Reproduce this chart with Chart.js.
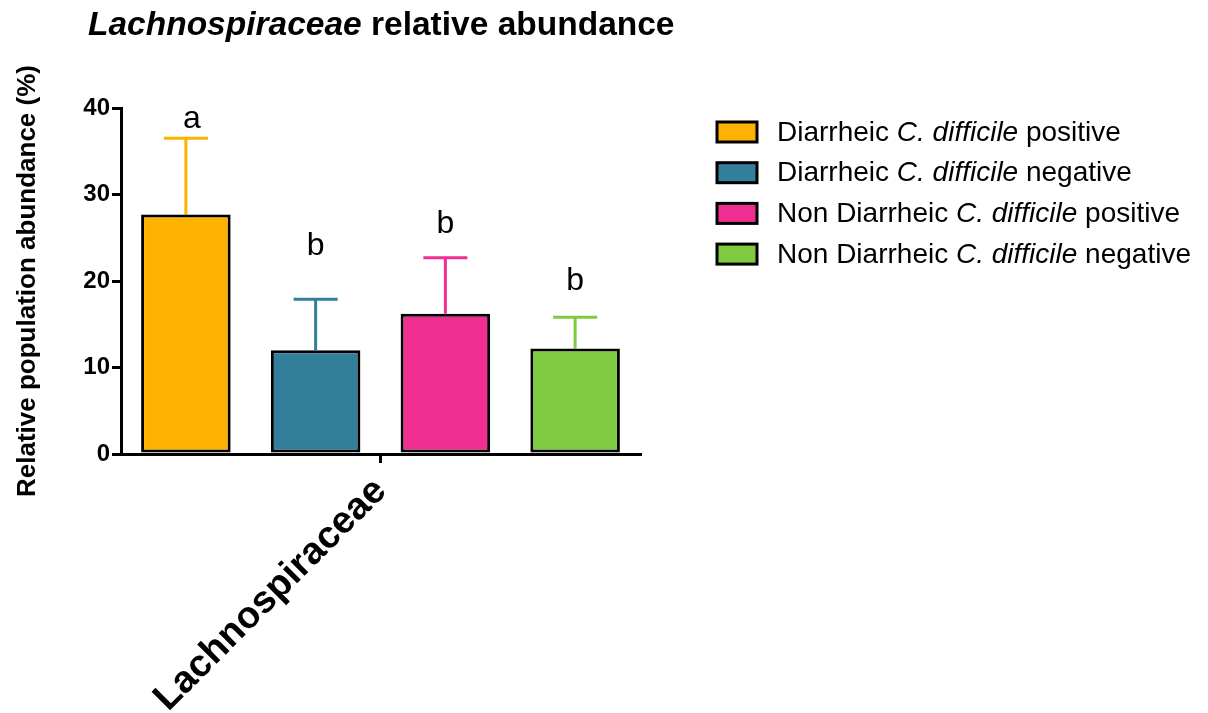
<!DOCTYPE html>
<html>
<head>
<meta charset="utf-8">
<script src="https://cdn.jsdelivr.net/npm/chart.js@4.4.0/dist/chart.umd.min.js"></script>
<style>
  body { margin: 0; background: #fff; }
  #wrap { width: 1208px; height: 713px; }
</style>
</head>
<body>
<div id="wrap"><canvas id="myChart"></canvas></div>
<script>
// 데이터
var categories = ['Lachnospiraceae'];
var groupLabels = [
    'Diarrheic C. difficile positive',
    'Diarrheic C. difficile negative',
    'Non Diarrheic C. difficile positive',
    'Non Diarrheic C. difficile negative'
];
var meanValues = [27.7, 12.0, 16.2, 12.2];
var errorTops = [36.5, 17.9, 22.7, 15.8];
var sigLetters = ['a', 'b', 'b', 'b'];
var letterHeights = [37.7, 23.0, 25.6, 19.0]; // 글자 baseline 위치 (y값)
var barColors = ['#FDB100', '#327F9C', '#F02E92', '#7FCB3F'];
var yTicks = [0, 10, 20, 30, 40];

var FONT = "'Liberation Sans', Arial, Helvetica, sans-serif";

// 이탤릭 섞인 텍스트 그리기
function drawMixed(ctx, parts, x, y, size, weight) {
    parts.forEach(function(p) {
        ctx.font = (p[1] ? 'italic ' : '') + weight + ' ' + size + 'px ' + FONT;
        ctx.fillText(p[0], x, y);
        x += ctx.measureText(p[0]).width;
    });
}

function splitItalic(label) {
    var key = 'C. difficile';
    var i = label.indexOf(key);
    if (i < 0) return [[label, false]];
    return [[label.slice(0, i), false], [key, true], [label.slice(i + key.length), false]];
}

var extrasPlugin = {
    id: 'extras',
    beforeDatasetsDraw: function(chart) {
        // 에러바
        var ctx = chart.ctx;
        var yScale = chart.scales.y;
        ctx.save();
        chart.data.datasets.forEach(function(ds, i) {
            var bar = chart.getDatasetMeta(i).data[0];
            var yTop = yScale.getPixelForValue(ds.errTop);
            ctx.strokeStyle = ds.backgroundColor;
            ctx.lineWidth = 3;
            ctx.beginPath();
            ctx.moveTo(bar.x, bar.y);
            ctx.lineTo(bar.x, yTop);
            ctx.moveTo(bar.x - 22, yTop);
            ctx.lineTo(bar.x + 22, yTop);
            ctx.stroke();
        });
        ctx.restore();
    },
    afterDraw: function(chart) {
        var ctx = chart.ctx;
        var yScale = chart.scales.y;
        ctx.save();
        ctx.fillStyle = '#000';
        ctx.textBaseline = 'alphabetic';

        // 제목
        ctx.textAlign = 'left';
        drawMixed(ctx, [['Lachnospiraceae', true], [' relative abundance', false]], 88, 35, 33.5, 'bold');

        // 유의성 글자
        ctx.textAlign = 'center';
        ctx.font = '32px ' + FONT;
        chart.data.datasets.forEach(function(ds, i) {
            var bar = chart.getDatasetMeta(i).data[0];
            var dx = i === 0 ? 6 : 0;
            ctx.fillText(sigLetters[i], bar.x + dx, yScale.getPixelForValue(letterHeights[i]));
        });

        // 범례
        ctx.textAlign = 'left';
        ctx.textBaseline = 'middle';
        chart.data.datasets.forEach(function(ds, i) {
            var cy = 132 + i * 40.7;
            ctx.fillStyle = ds.backgroundColor;
            ctx.fillRect(717, cy - 10, 40, 20);
            ctx.strokeStyle = '#000';
            ctx.lineWidth = 3;
            ctx.strokeRect(717, cy - 10, 40, 20);
            ctx.fillStyle = '#000';
            drawMixed(ctx, splitItalic(ds.label), 777, cy + 1, 28, 'normal');
        });
        ctx.restore();
    }
};

var datasets = groupLabels.map(function(label, i) {
    return {
        label: label,
        data: [meanValues[i]],
        errTop: errorTops[i],
        backgroundColor: barColors[i],
        borderColor: '#000',
        borderWidth: 3,
        borderSkipped: false,
        categoryPercentage: 1.0,
        barPercentage: 0.69
    };
});

var ctx = document.getElementById('myChart').getContext('2d');
var myChart = new Chart(ctx, {
    type: 'bar',
    data: {
        labels: categories,
        datasets: datasets
    },
    options: {
        responsive: true,
        maintainAspectRatio: false,
        animation: false,
        layout: {
            padding: { top: 108, right: 568, left: 0, bottom: 0 }
        },
        plugins: {
            legend: { display: false },
            title: { display: false },
            tooltip: { enabled: false }
        },
        scales: {
            x: {
                offset: true,
                grid: {
                    offset: false,
                    drawOnChartArea: false,
                    drawTicks: true,
                    tickLength: 9,
                    color: '#000',
                    lineWidth: 3
                },
                border: { display: true, color: '#000', width: 3 },
                ticks: {
                    color: '#000',
                    font: { family: FONT, size: 38, weight: 'bold' },
                    maxRotation: 45,
                    minRotation: 45,
                    padding: 6
                },
                afterFit: function(scale) { scale.height = 713 - 454; }
            },
            y: {
                min: 0,
                max: 40,
                afterBuildTicks: function(scale) {
                    scale.ticks = yTicks.map(function(v) { return { value: v }; });
                },
                grid: {
                    drawOnChartArea: false,
                    drawTicks: true,
                    tickLength: 9,
                    color: '#000',
                    lineWidth: 3
                },
                border: { display: true, color: '#000', width: 3 },
                ticks: {
                    color: '#000',
                    font: { family: FONT, size: 24, weight: 'bold' },
                    padding: 2
                },
                title: {
                    display: true,
                    text: 'Relative population abundance (%)',
                    color: '#000',
                    font: { family: FONT, size: 26, weight: 'bold' },
                    padding: { top: 12, bottom: 0 }
                },
                afterFit: function(scale) { scale.width = 121; }
            }
        }
    },
    plugins: [extrasPlugin]
});
</script>
</body>
</html>
